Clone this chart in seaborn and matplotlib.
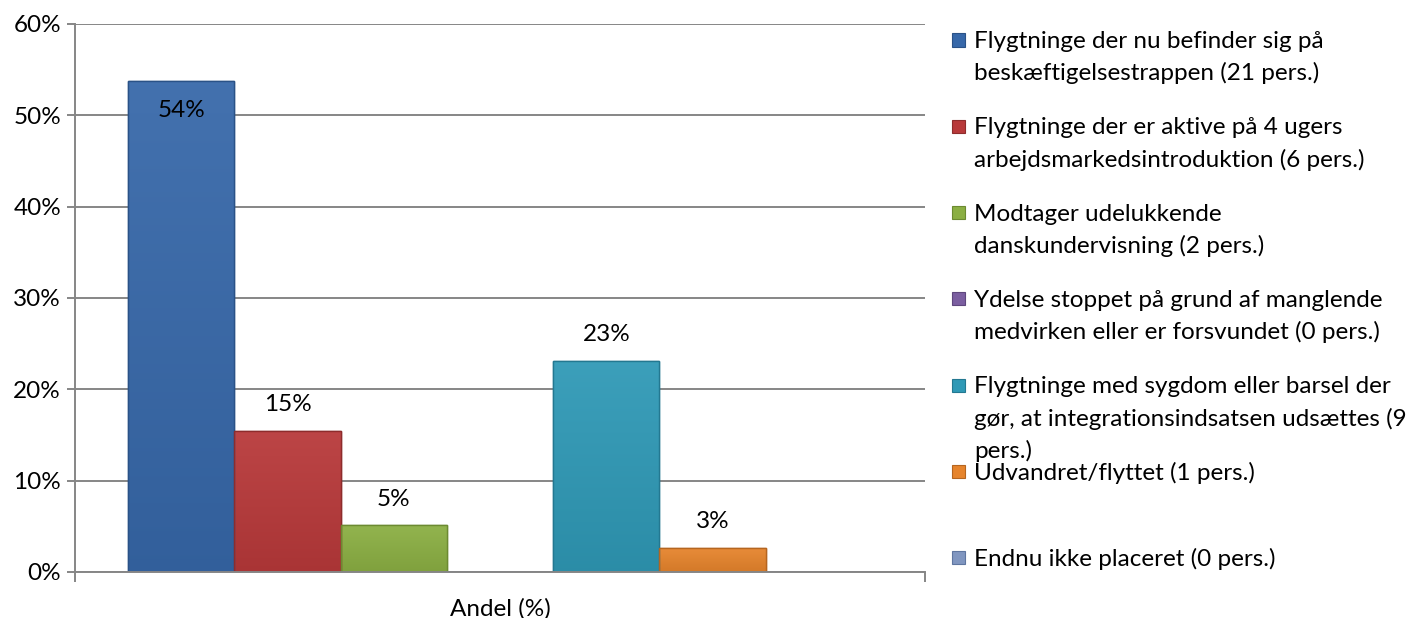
import matplotlib
matplotlib.use("Agg")
import matplotlib.pyplot as plt
from matplotlib.patches import Rectangle
import matplotlib.colors as mcolors
import numpy as np
import seaborn as sns
import pandas as pd

# ---- data ----
category = "Andel (%)"
series = [
    "Flygtninge der nu befinder sig på\nbeskæftigelsestrappen (21 pers.)",
    "Flygtninge der er aktive på 4 ugers\narbejdsmarkedsintroduktion (6 pers.)",
    "Modtager udelukkende\ndanskundervisning (2 pers.)",
    "Ydelse stoppet på grund af manglende\nmedvirken eller er forsvundet (0 pers.)",
    "Flygtninge med sygdom eller barsel der\ngør, at integrationsindsatsen udsættes (9\npers.)",
    "Udvandret/flyttet (1 pers.)",
    "Endnu ikke placeret (0 pers.)",
]
values = [53.8, 15.4, 5.1, 0.0, 23.1, 2.6, 0.0]
value_labels = ["54%", "15%", "5%", "", "23%", "3%", ""]
colors = ["#3768A9", "#B8393A", "#8BAF43", "#7B5EA0", "#2F99B6", "#E6842C", "#8096C0"]
edge_colors = ["#2A5287", "#8E2C2C", "#6C8A31", "#5E477D", "#237891", "#B5651F", "#5F76A0"]
yticks = [0, 10, 20, 30, 40, 50, 60]
ytick_labels = ["0%", "10%", "20%", "30%", "40%", "50%", "60%"]

df = pd.DataFrame({"cat": [category] * len(series), "series": series, "value": values})

sns.set_theme(style="white")
plt.rcParams["font.family"] = ["Lato", "DejaVu Sans"]
FS = 17.5

W, H = 1420, 618
fig = plt.figure(figsize=(W / 100, H / 100), dpi=100)
ax = fig.add_axes([75 / W, 46 / H, 850 / W, 548 / H])

sns.barplot(data=df, x="cat", y="value", hue="series", hue_order=series,
            palette=colors, width=0.8, ax=ax, legend=False, saturation=1,
            linewidth=1.0)


def shade(c, f):
    r = np.array(mcolors.to_rgb(c))
    if f >= 0:
        return r + (1 - r) * f
    return r * (1 + f)


XL = 0.457
# subtle vertical gradient on each bar (bevel look), clipped to the bar patch
for p, c, ec in zip(list(ax.patches), colors, edge_colors):
    p.set_edgecolor(ec)
    h = p.get_height()
    if h <= 0:
        continue
    top_c, bot_c = shade(c, 0.06), shade(c, -0.08)
    t = np.linspace(0, 1, 64)[:, None]
    grad = (top_c[None, :] * (1 - t) + bot_c[None, :] * t)[:, None, :]
    x0 = p.get_x()
    im = ax.imshow(grad, extent=[x0, x0 + p.get_width(), 0, h], aspect="auto",
                   origin="upper", zorder=p.get_zorder() + 0.05, interpolation="bilinear")
    im.set_clip_path(p)
    hl = Rectangle((x0, 0), p.get_width(), h, fill=False, edgecolor=ec,
                   linewidth=1.0, zorder=p.get_zorder() + 0.1)
    ax.add_patch(hl)

ax.set_xlim(-XL, XL)
ax.set_ylim(0, 60)
ax.set_aspect("auto")
ax.set_yticks(yticks)
ax.set_yticklabels(ytick_labels)
ax.set_xlabel("")
ax.set_ylabel("")
ax.set_xticks([0])
ax.set_xticklabels([category])
ax.set_xticks([-XL, XL], minor=True)

grid_c = "#868686"
ax.yaxis.grid(True, color=grid_c, linewidth=1.4)
ax.set_axisbelow(True)
for s in ["top", "right"]:
    ax.spines[s].set_visible(False)
for s in ["left", "bottom"]:
    ax.spines[s].set_color(grid_c)
    ax.spines[s].set_linewidth(1.4)

ax.tick_params(axis="y", which="major", direction="out", length=6, width=1.4,
               color=grid_c, labelsize=FS, labelcolor="black", pad=4, left=True)
ax.tick_params(axis="x", which="major", length=0, labelsize=FS, labelcolor="black", pad=19)
ax.tick_params(axis="x", which="minor", direction="out", length=7, width=1.4,
               color=grid_c, bottom=True)

# data labels
for p, v, lab in zip(ax.patches, values, value_labels):
    if not lab:
        continue
    xc = p.get_x() + p.get_width() / 2
    top = p.get_height()
    if v > 50:
        ax.annotate(lab, (xc, top), xytext=(0, -21.5), textcoords="offset points",
                    ha="center", va="center", fontsize=FS, color="black", zorder=5)
    else:
        ax.annotate(lab, (xc, top), xytext=(0, 19), textcoords="offset points",
                    ha="center", va="center", fontsize=FS, color="black", zorder=5)

# legend (manual, matching the uneven layout)
first_y = 40
step = 86.3
line_h = 32.5
for i, (lab, c, ec) in enumerate(zip(series, colors, edge_colors)):
    yc = first_y + step * i
    fig.patches.append(Rectangle((952 / W, 1 - (yc + 6.5) / H), 13 / W, 13 / H,
                                 transform=fig.transFigure, facecolor=c,
                                 edgecolor=ec, linewidth=0.8))
    for j, line in enumerate(lab.split("\n")):
        fig.text(974 / W, 1 - (yc + 8 + line_h * j) / H, line, ha="left",
                 va="baseline", fontsize=FS, color="black")

fig.savefig("out.png", dpi=100)
